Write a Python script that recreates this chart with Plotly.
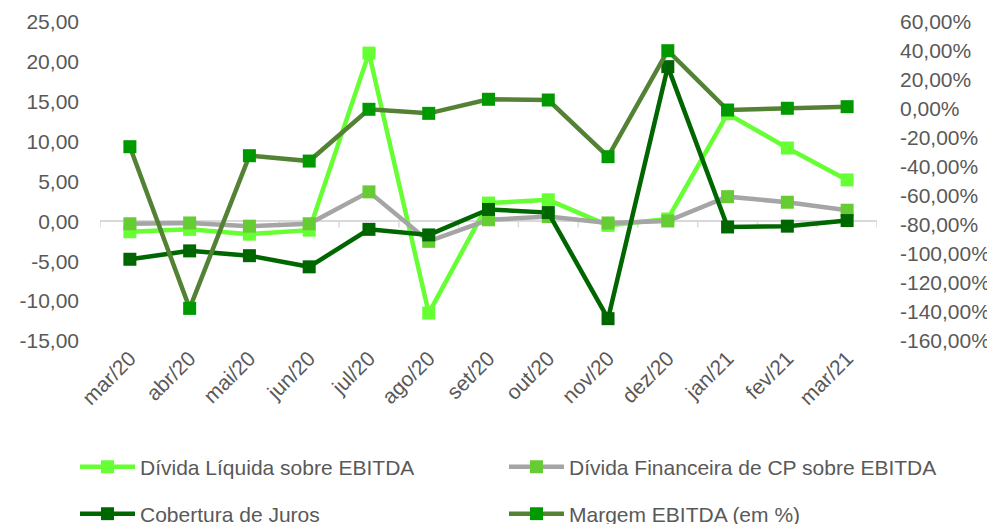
import plotly.graph_objects as go

months = ["mar/20", "abr/20", "mai/20", "jun/20", "jul/20", "ago/20", "set/20",
          "out/20", "nov/20", "dez/20", "jan/21", "fev/21", "mar/21"]

divida_liquida = [-1.3, -1.0, -1.6, -1.1, 21.1, -11.5, 2.3, 2.7, -0.5, 0.3, 13.5, 9.2, 5.2]
divida_fin_cp = [-0.3, -0.2, -0.6, -0.3, 3.7, -2.5, 0.2, 0.6, -0.2, 0.05, 3.1, 2.4, 1.4]
cobertura_juros = [-4.75, -3.7, -4.3, -5.7, -1.0, -1.7, 1.5, 1.1, -12.2, 19.4, -0.7, -0.6, 0.1]
margem_ebitda = [-26.0, -137.5, -32.2, -35.9, -0.2, -3.0, 6.7, 6.2, -32.9, 40.2, -0.7, 0.5, 1.6]

left_ticks = [-15, -10, -5, 0, 5, 10, 15, 20, 25]
right_ticks = [-160, -140, -120, -100, -80, -60, -40, -20, 0, 20, 40, 60]

def fmt(v):
    return f"{v:.2f}".replace(".", ",")

left_text = [fmt(v) for v in left_ticks]
right_text = [fmt(v) + "%" for v in right_ticks]

FONT = "Liberation Sans, Arial, sans-serif"
GRAY = "#595959"
FS = 21

# page body has an 8px default margin; figure is sized/positioned to compensate
W, H = 987, 516
OFF = 8

fig = go.Figure()
x = list(range(len(months)))

fig.add_trace(go.Scatter(
    x=x, y=divida_liquida, name="Dívida Líquida sobre EBITDA", mode="lines+markers",
    line=dict(color="#66FF33", width=4.5),
    marker=dict(symbol="square", size=13, color="#66FF33"), legend="legend"))
fig.add_trace(go.Scatter(
    x=x, y=divida_fin_cp, name="Dívida Financeira de CP sobre EBITDA", mode="lines+markers",
    line=dict(color="#A5A5A5", width=4.5),
    marker=dict(symbol="square", size=13, color="#66CC33"), legend="legend2"))
fig.add_trace(go.Scatter(
    x=x, y=cobertura_juros, name="Cobertura de Juros", mode="lines+markers",
    line=dict(color="#006600", width=4.5),
    marker=dict(symbol="square", size=13, color="#006600"), legend="legend3"))
fig.add_trace(go.Scatter(
    x=x, y=margem_ebitda, name="Margem EBITDA (em %)", mode="lines+markers",
    line=dict(color="#548235", width=4.5),
    marker=dict(symbol="square", size=13, color="#009900"), legend="legend4",
    yaxis="y2"))

# category tick marks on the zero line
shapes = []
for i in range(len(months) + 1):
    shapes.append(dict(type="line", xref="x", yref="y", x0=i - 0.5, x1=i - 0.5,
                       ysizemode="pixel", yanchor=0, y0=0, y1=-6,
                       line=dict(color="#D9D9D9", width=1.5), layer="below"))

leg_common = dict(orientation="h", xref="container", yref="container",
                  xanchor="left", yanchor="middle", itemwidth=55,
                  font=dict(family=FONT, size=FS, color=GRAY),
                  bgcolor="rgba(0,0,0,0)")

col1, col2 = (75 - OFF) / W, (504 - OFF) / W
row1, row2 = 1 - (467 - OFF) / H, 1 - (514 - OFF) / H

fig.update_layout(
    width=W, height=H,
    margin=dict(l=100 - OFF, r=118, t=22 - OFF, b=183, autoexpand=False),
    paper_bgcolor="white", plot_bgcolor="white",
    font=dict(family=FONT, size=FS, color=GRAY),
    showlegend=True,
    legend=dict(x=col1, y=row1, **leg_common),
    legend2=dict(x=col2, y=row1, **leg_common),
    legend3=dict(x=col1, y=row2, **leg_common),
    legend4=dict(x=col2, y=row2, **leg_common),
    xaxis=dict(range=[-0.5, len(months) - 0.5], tickvals=x, ticktext=months,
               tickangle=-45, showgrid=False, showline=False, zeroline=False,
               ticks="", tickfont=dict(family=FONT, size=FS, color=GRAY)),
    yaxis=dict(range=[-15, 25], tickvals=left_ticks, ticktext=left_text,
               showgrid=False, zeroline=True, zerolinecolor="#D9D9D9", zerolinewidth=2,
               showline=False, ticks="", ticklabelstandoff=20,
               tickfont=dict(family=FONT, size=FS, color=GRAY)),
    yaxis2=dict(range=[-160, 60], tickvals=right_ticks, ticktext=right_text,
                overlaying="y", side="right", showgrid=False, zeroline=False,
                showline=False, ticks="", ticklabelstandoff=22,
                tickfont=dict(family=FONT, size=FS, color=GRAY)),
    shapes=shapes,
)

fig.write_html("out.html")
